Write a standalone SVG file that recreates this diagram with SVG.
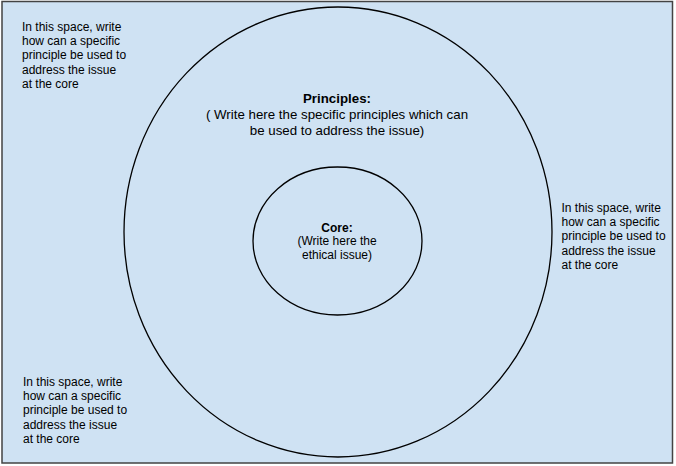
<svg xmlns="http://www.w3.org/2000/svg" width="676" height="466" viewBox="0 0 676 466">
  <style>
    .ring { fill: none; stroke: #000000; stroke-width: 1.3; }
    .t { font-family: "Liberation Sans", Arial, sans-serif; fill: #000000; }
    .side { font-size: 12px; }
    .bold { font-weight: bold; }
  </style>
  <rect x="0" y="0" width="676" height="466" fill="#ffffff"/>
  <g id="background">
    <rect x="2" y="1.5" width="670.5" height="461.5" fill="#cfe2f3" stroke="#434343" stroke-width="1.5"/>
  </g>
  <g id="principles">
    <ellipse class="ring" cx="338" cy="232" rx="214" ry="225"/>
    <text class="t bold" x="337" y="103" text-anchor="middle" font-size="13.3">Principles:</text>
    <text class="t" x="337" y="119" text-anchor="middle" font-size="13.3">( Write here the specific principles which can</text>
    <text class="t" x="337" y="134.5" text-anchor="middle" font-size="13.3">be used to address the issue)</text>
  </g>
  <g id="core">
    <ellipse class="ring" cx="337.5" cy="241" rx="84.5" ry="74"/>
    <text class="t bold" x="337" y="232" text-anchor="middle" font-size="12">Core:</text>
    <text class="t" x="337" y="245.3" text-anchor="middle" font-size="12">(Write here the</text>
    <text class="t" x="337" y="258.6" text-anchor="middle" font-size="12">ethical issue)</text>
  </g>
  <g id="note-top-left">
    <text class="t side" x="22" y="31">In this space, write</text>
    <text class="t side" x="22" y="45.2">how can a specific</text>
    <text class="t side" x="22" y="59.4">principle be used to</text>
    <text class="t side" x="22" y="73.6">address the issue</text>
    <text class="t side" x="22" y="87.8">at the core</text>
  </g>
  <g id="note-right">
    <text class="t side" x="561.5" y="212">In this space, write</text>
    <text class="t side" x="561.5" y="226.2">how can a specific</text>
    <text class="t side" x="561.5" y="240.4">principle be used to</text>
    <text class="t side" x="561.5" y="254.6">address the issue</text>
    <text class="t side" x="561.5" y="268.8">at the core</text>
  </g>
  <g id="note-bottom-left">
    <text class="t side" x="23" y="386">In this space, write</text>
    <text class="t side" x="23" y="400.2">how can a specific</text>
    <text class="t side" x="23" y="414.4">principle be used to</text>
    <text class="t side" x="23" y="428.6">address the issue</text>
    <text class="t side" x="23" y="442.8">at the core</text>
  </g>
  <g id="connectors"/>
</svg>
